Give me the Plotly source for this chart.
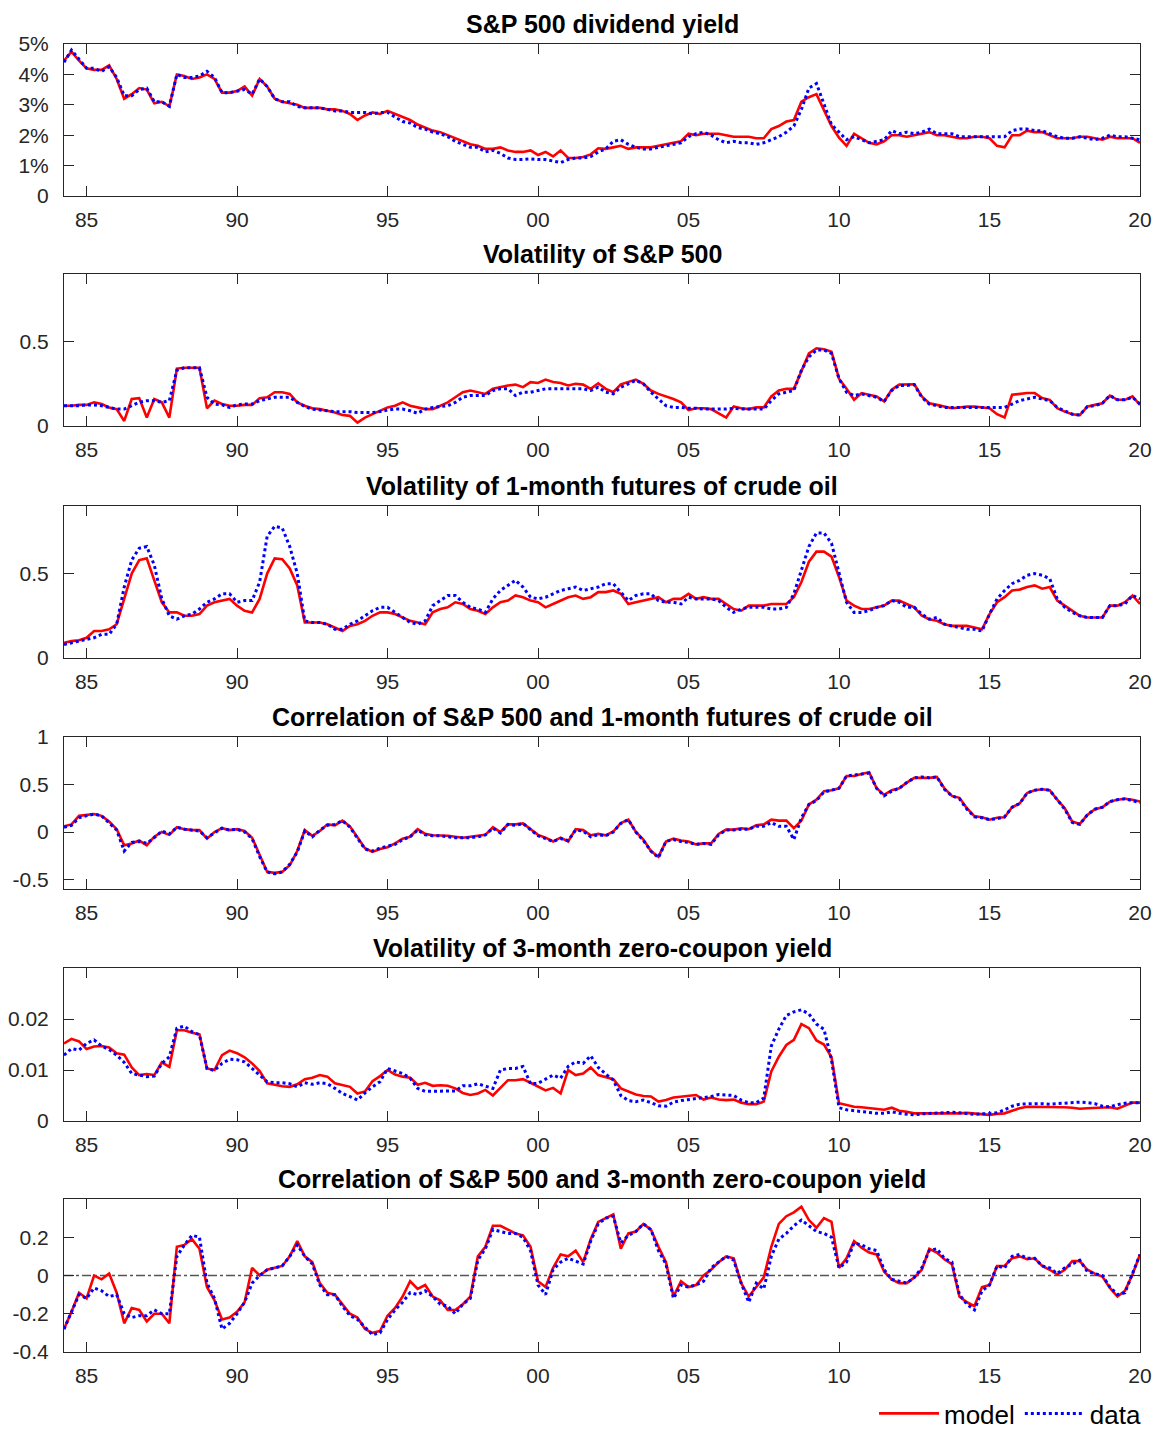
import plotly.graph_objects as go

# quarterly grid: 1984.25 ... 2020.00 (144 points)
years = [1984.25 + 0.25 * k for k in range(144)]

x_tickvals = [1985, 1990, 1995, 2000, 2005, 2010, 2015, 2020]
x_ticktext = ["85", "90", "95", "00", "05", "10", "15", "20"]

# ---- S&P 500 dividend yield (percent)
div_model = [
    4.45, 4.75, 4.45,
    4.2, 4.15, 4.15, 4.3,
    3.85, 3.2, 3.35, 3.55,
    3.5, 3.05, 3.1, 2.95,
    4.0, 3.95, 3.85, 3.9,
    4.0, 3.85, 3.4, 3.4,
    3.45, 3.6, 3.3, 3.85,
    3.6, 3.2, 3.1, 3.05,
    3.0, 2.9, 2.9, 2.9,
    2.85, 2.85, 2.8, 2.7,
    2.5, 2.65, 2.75, 2.7,
    2.8, 2.7, 2.6, 2.5,
    2.35, 2.25, 2.15, 2.1,
    2.0, 1.9, 1.8, 1.7,
    1.65, 1.55, 1.55, 1.6,
    1.5, 1.45, 1.45, 1.5,
    1.35, 1.45, 1.3, 1.5,
    1.25, 1.25, 1.28, 1.37,
    1.57, 1.55, 1.6, 1.65,
    1.55, 1.6, 1.6, 1.6,
    1.65, 1.7, 1.75, 1.8,
    2.05, 2.0, 2.05, 2.05,
    2.05, 2.0, 1.95, 1.95,
    1.95, 1.9, 1.9, 2.2,
    2.3, 2.45, 2.5, 3.1,
    3.25, 3.35, 2.8, 2.3,
    1.92, 1.65, 2.05, 1.9,
    1.75, 1.7, 1.8, 2.0,
    2.0, 1.95, 2.0, 2.05,
    2.1, 2.0, 2.0, 1.95,
    1.9, 1.9, 1.95, 1.95,
    1.9, 1.65, 1.6, 2.0,
    2.0, 2.15, 2.1, 2.1,
    2.0, 1.9, 1.9, 1.9,
    1.95, 1.95, 1.9, 1.85,
    1.95, 1.9, 1.9, 1.9,
    1.75,
]
div_data = [
    4.4, 4.8, 4.5,
    4.2, 4.2, 4.1, 4.25,
    3.9, 3.3, 3.3, 3.5,
    3.55, 3.1, 3.1, 2.95,
    4.0, 3.9, 3.9, 3.95,
    4.1, 3.9, 3.4, 3.4,
    3.45, 3.5, 3.35, 3.85,
    3.6, 3.2, 3.1, 3.1,
    2.95, 2.9, 2.9, 2.9,
    2.85, 2.8, 2.8, 2.75,
    2.75, 2.75, 2.7, 2.75,
    2.75, 2.6, 2.45, 2.4,
    2.25, 2.2, 2.1, 2.05,
    1.95, 1.8, 1.7, 1.6,
    1.6, 1.45, 1.5, 1.4,
    1.25, 1.2, 1.2, 1.22,
    1.2, 1.2, 1.15, 1.1,
    1.2, 1.25, 1.25, 1.3,
    1.45, 1.55, 1.8, 1.85,
    1.7, 1.6, 1.55, 1.55,
    1.6, 1.65, 1.7, 1.75,
    1.95, 2.05, 2.1, 2.0,
    1.85, 1.75, 1.8, 1.75,
    1.75, 1.7, 1.75, 1.85,
    1.95, 2.1, 2.3, 2.85,
    3.55, 3.7, 3.0, 2.35,
    2.1, 1.85, 1.95, 1.85,
    1.75, 1.8, 1.85, 2.15,
    2.05, 2.1, 2.05, 2.1,
    2.2, 2.05, 2.05, 2.05,
    1.95, 1.95, 1.95, 1.95,
    1.95, 1.95, 1.95, 2.15,
    2.2, 2.2, 2.15, 2.15,
    2.05, 1.95, 1.9, 1.9,
    1.95, 1.9, 1.85, 1.9,
    2.0, 1.95, 1.95, 1.9,
    1.85,
]

# ---- Volatility of S&P 500
volsp_model = [
    0.12, 0.12, 0.125,
    0.125, 0.14, 0.13, 0.11,
    0.1, 0.03, 0.16, 0.165,
    0.05, 0.16, 0.14, 0.05,
    0.34, 0.345, 0.345, 0.345,
    0.105, 0.15, 0.13, 0.12,
    0.12, 0.125, 0.125, 0.165,
    0.17, 0.2, 0.2, 0.19,
    0.14, 0.12, 0.105, 0.1,
    0.09, 0.08, 0.065, 0.06,
    0.02, 0.05, 0.07, 0.09,
    0.11, 0.12, 0.14, 0.12,
    0.11, 0.1, 0.1, 0.12,
    0.14, 0.17, 0.2, 0.21,
    0.2, 0.19, 0.22, 0.23,
    0.24, 0.245, 0.23, 0.26,
    0.255, 0.275, 0.26, 0.255,
    0.24, 0.25, 0.245, 0.22,
    0.253, 0.22, 0.2, 0.247,
    0.26, 0.275, 0.25, 0.21,
    0.19, 0.175, 0.16, 0.14,
    0.095, 0.105, 0.105, 0.1,
    0.075, 0.05, 0.115, 0.105,
    0.1, 0.11, 0.11, 0.175,
    0.21, 0.22, 0.22, 0.32,
    0.43, 0.46, 0.455, 0.44,
    0.28, 0.22, 0.155, 0.195,
    0.185, 0.175, 0.145, 0.215,
    0.245, 0.245, 0.247, 0.175,
    0.135, 0.125, 0.115, 0.105,
    0.11, 0.115, 0.115, 0.11,
    0.105, 0.07, 0.05, 0.185,
    0.19, 0.195, 0.195, 0.165,
    0.155, 0.105, 0.085, 0.07,
    0.065, 0.115, 0.125, 0.135,
    0.18, 0.155, 0.155, 0.175,
    0.125,
]
volsp_data = [
    0.12, 0.12, 0.12,
    0.125, 0.125, 0.12, 0.11,
    0.1, 0.1, 0.12, 0.14,
    0.15, 0.15, 0.14, 0.15,
    0.33, 0.345, 0.345, 0.345,
    0.17, 0.13, 0.125, 0.11,
    0.125, 0.13, 0.13, 0.15,
    0.16, 0.17, 0.17, 0.17,
    0.14, 0.115, 0.1, 0.095,
    0.09, 0.085, 0.085, 0.085,
    0.08, 0.08, 0.08, 0.085,
    0.095, 0.1, 0.1, 0.09,
    0.075, 0.1, 0.11, 0.115,
    0.12, 0.14, 0.17, 0.18,
    0.18, 0.18, 0.21, 0.22,
    0.22, 0.18, 0.2, 0.2,
    0.21, 0.22, 0.22, 0.22,
    0.22, 0.22, 0.22, 0.21,
    0.23, 0.2, 0.19, 0.23,
    0.25, 0.27, 0.25, 0.2,
    0.16, 0.12, 0.11, 0.11,
    0.105, 0.105, 0.1, 0.1,
    0.1, 0.1, 0.105, 0.1,
    0.1, 0.1, 0.1, 0.15,
    0.19, 0.2, 0.21, 0.33,
    0.41, 0.45, 0.45, 0.43,
    0.28, 0.2, 0.18, 0.19,
    0.18, 0.17, 0.145, 0.21,
    0.24, 0.24, 0.245, 0.17,
    0.13, 0.12, 0.11, 0.11,
    0.11, 0.11, 0.11, 0.11,
    0.11, 0.11, 0.11, 0.13,
    0.15, 0.16, 0.17, 0.16,
    0.15, 0.11, 0.09, 0.07,
    0.065, 0.115, 0.12, 0.135,
    0.18, 0.155, 0.155, 0.17,
    0.13,
]

# ---- Volatility of 1-month futures of crude oil
oil_model = [
    0.09, 0.1, 0.105,
    0.12, 0.16, 0.16, 0.17,
    0.2, 0.35, 0.5, 0.58,
    0.59, 0.46, 0.33, 0.27,
    0.27, 0.25, 0.25, 0.26,
    0.31, 0.33, 0.34, 0.35,
    0.31, 0.28, 0.27, 0.35,
    0.5, 0.59, 0.585, 0.53,
    0.43, 0.21, 0.21, 0.21,
    0.2, 0.18, 0.16, 0.19,
    0.2, 0.22, 0.25, 0.27,
    0.27, 0.26, 0.24, 0.22,
    0.21, 0.2, 0.27, 0.29,
    0.3, 0.33, 0.32, 0.29,
    0.28, 0.26, 0.3, 0.33,
    0.34, 0.37, 0.36, 0.34,
    0.33, 0.3, 0.32, 0.34,
    0.36, 0.37, 0.35, 0.36,
    0.39, 0.39, 0.4, 0.38,
    0.32, 0.33, 0.34, 0.35,
    0.36, 0.33, 0.35, 0.35,
    0.38, 0.35, 0.36, 0.35,
    0.35, 0.32, 0.29, 0.28,
    0.31, 0.31, 0.31, 0.32,
    0.32, 0.32, 0.36, 0.45,
    0.57, 0.63, 0.63, 0.6,
    0.48, 0.34, 0.31, 0.29,
    0.29, 0.3, 0.31, 0.34,
    0.34, 0.32, 0.3, 0.25,
    0.23, 0.22, 0.2, 0.19,
    0.19, 0.19, 0.18, 0.17,
    0.26, 0.33, 0.36, 0.4,
    0.405, 0.42, 0.43, 0.41,
    0.42, 0.34, 0.31, 0.28,
    0.25, 0.24, 0.24, 0.24,
    0.31, 0.31, 0.33, 0.37,
    0.32,
]
oil_data = [
    0.08, 0.09, 0.1,
    0.11, 0.12, 0.14, 0.14,
    0.2, 0.42, 0.58, 0.65,
    0.66, 0.55, 0.35, 0.25,
    0.23, 0.25, 0.26, 0.29,
    0.33, 0.35, 0.38, 0.38,
    0.33, 0.34, 0.34, 0.45,
    0.72, 0.78, 0.77, 0.66,
    0.5, 0.22, 0.21, 0.21,
    0.2, 0.17, 0.17, 0.2,
    0.22, 0.25, 0.28, 0.3,
    0.3, 0.27, 0.24, 0.21,
    0.2, 0.22, 0.31, 0.34,
    0.37, 0.37, 0.33, 0.3,
    0.29, 0.27, 0.35, 0.4,
    0.43, 0.46, 0.42, 0.36,
    0.35, 0.36, 0.38, 0.4,
    0.41, 0.42, 0.4, 0.41,
    0.42, 0.44, 0.44, 0.39,
    0.34, 0.37, 0.38, 0.38,
    0.34, 0.33, 0.33, 0.32,
    0.36, 0.35, 0.35, 0.35,
    0.34, 0.3, 0.27, 0.29,
    0.3, 0.3, 0.3, 0.29,
    0.29, 0.3, 0.38, 0.52,
    0.66, 0.74, 0.74, 0.68,
    0.5, 0.33, 0.27, 0.27,
    0.28, 0.3, 0.31, 0.34,
    0.33, 0.3, 0.3, 0.26,
    0.23, 0.24, 0.2, 0.19,
    0.18, 0.17, 0.17, 0.16,
    0.26, 0.35, 0.4, 0.44,
    0.46, 0.49, 0.5, 0.49,
    0.47, 0.35, 0.3, 0.27,
    0.25, 0.24, 0.24, 0.24,
    0.31, 0.31, 0.32, 0.37,
    0.35,
]

# ---- Correlation of S&P 500 and 1-month futures of crude oil
corroil_model = [
    0.06, 0.08, 0.17,
    0.18, 0.19, 0.17, 0.11,
    0.03, -0.14, -0.12, -0.09,
    -0.14, -0.05, 0.0, -0.03,
    0.05, 0.03, 0.02, 0.02,
    -0.07, 0.0, 0.04, 0.02,
    0.03, 0.01, -0.06, -0.25,
    -0.42, -0.43, -0.42, -0.35,
    -0.2, 0.02, -0.04, 0.01,
    0.08, 0.07, 0.12, 0.06,
    -0.05, -0.17, -0.21, -0.18,
    -0.16, -0.12, -0.07, -0.05,
    0.03, -0.02, -0.035, -0.035,
    -0.04, -0.05, -0.06, -0.05,
    -0.04, -0.03, 0.05, 0.0,
    0.08, 0.08, 0.09, 0.03,
    -0.03, -0.06, -0.1, -0.06,
    -0.1, 0.03, 0.02, -0.035,
    -0.02, -0.035, 0.005, 0.095,
    0.13, 0.0, -0.08, -0.2,
    -0.26, -0.1, -0.07, -0.09,
    -0.1, -0.13, -0.12, -0.12,
    -0.02, 0.025, 0.025, 0.04,
    0.03, 0.07, 0.08, 0.13,
    0.12, 0.12, 0.04, 0.12,
    0.29, 0.34, 0.43, 0.44,
    0.46, 0.59, 0.59, 0.61,
    0.63, 0.46, 0.39, 0.44,
    0.46, 0.52, 0.57, 0.57,
    0.57, 0.58, 0.46, 0.38,
    0.36, 0.25, 0.165, 0.155,
    0.13, 0.15, 0.155, 0.26,
    0.3, 0.41, 0.44, 0.45,
    0.44, 0.34, 0.25, 0.11,
    0.085, 0.18, 0.24, 0.26,
    0.32, 0.34, 0.35, 0.34,
    0.32,
]
corroil_data = [
    0.05, 0.07, 0.15,
    0.17, 0.19, 0.17, 0.1,
    0.02, -0.2, -0.11, -0.1,
    -0.12, -0.06, 0.01, -0.02,
    0.05, 0.03, 0.02, 0.01,
    -0.06, -0.01, 0.04, 0.02,
    0.03, 0.0, -0.07, -0.26,
    -0.42, -0.44, -0.42, -0.34,
    -0.21, 0.01, -0.05, 0.02,
    0.07, 0.08, 0.12, 0.05,
    -0.06, -0.18, -0.2, -0.17,
    -0.15, -0.13, -0.08, -0.05,
    0.02, -0.03, -0.04, -0.04,
    -0.05, -0.06, -0.06, -0.06,
    -0.05, -0.03, 0.04, -0.01,
    0.08, 0.07, 0.09, 0.02,
    -0.04, -0.07, -0.1, -0.07,
    -0.09, 0.02, 0.01, -0.05,
    -0.03, -0.04, 0.0, 0.09,
    0.13, 0.0, -0.09, -0.2,
    -0.27, -0.1, -0.08, -0.1,
    -0.11, -0.13, -0.12, -0.13,
    -0.03, 0.02, 0.02, 0.03,
    0.03, 0.06, 0.06, 0.1,
    0.06, 0.06, -0.08, 0.15,
    0.29, 0.33, 0.42, 0.44,
    0.46, 0.59, 0.6, 0.61,
    0.62, 0.46, 0.38, 0.43,
    0.46, 0.52, 0.57, 0.58,
    0.57, 0.58, 0.45, 0.38,
    0.35, 0.24, 0.16, 0.15,
    0.13, 0.14, 0.16, 0.26,
    0.3, 0.41, 0.44, 0.45,
    0.44, 0.34, 0.24, 0.1,
    0.08, 0.18, 0.24, 0.26,
    0.32, 0.34, 0.35, 0.33,
    0.31,
]

# ---- Volatility of 3-month zero-coupon yield
volyld_model = [
    0.0152, 0.0161, 0.0156,
    0.0141, 0.0146, 0.0147, 0.0144,
    0.0133, 0.013, 0.0105, 0.009,
    0.0092, 0.009, 0.0115, 0.0106,
    0.0178, 0.0178, 0.0173, 0.017,
    0.0103, 0.01, 0.0129, 0.0138,
    0.0133, 0.0125, 0.0113, 0.0098,
    0.0074, 0.0071, 0.0068, 0.0067,
    0.0072, 0.0082, 0.0085, 0.009,
    0.0087, 0.0074, 0.0071, 0.0067,
    0.0054, 0.0058, 0.0078, 0.0088,
    0.01, 0.0091, 0.0087, 0.0085,
    0.0071, 0.0075, 0.0069, 0.007,
    0.0069, 0.0064, 0.0055, 0.0051,
    0.0054, 0.0061, 0.005, 0.0065,
    0.008, 0.008, 0.0082, 0.0075,
    0.0068, 0.006, 0.0065, 0.0054,
    0.01, 0.009, 0.0093, 0.0105,
    0.009, 0.0086, 0.0082, 0.0064,
    0.0058, 0.0052, 0.0049, 0.0048,
    0.0038, 0.0041, 0.0046, 0.0048,
    0.0049, 0.0051, 0.0042, 0.0046,
    0.0042, 0.0041, 0.0042, 0.0036,
    0.0033, 0.0033, 0.0038, 0.0097,
    0.0126, 0.0149, 0.0159, 0.019,
    0.0182, 0.0158, 0.015, 0.0125,
    0.0035, 0.0031, 0.0028, 0.0027,
    0.0025, 0.0024, 0.0022, 0.0026,
    0.002, 0.0018, 0.0015, 0.0015,
    0.0015, 0.0014, 0.0015, 0.0015,
    0.0015, 0.0016, 0.0015, 0.0014,
    0.0012, 0.0014, 0.0015, 0.002,
    0.0025, 0.0028, 0.0028, 0.0028,
    0.0028, 0.0028, 0.0027, 0.0026,
    0.0024, 0.0025, 0.0026, 0.0026,
    0.0027, 0.0024, 0.003, 0.0036,
    0.0036,
]
volyld_data = [
    0.0129, 0.0142, 0.0139,
    0.0152, 0.0159, 0.0147, 0.014,
    0.0129, 0.0115, 0.0093, 0.009,
    0.0087, 0.0088, 0.0113, 0.0126,
    0.0182, 0.0186, 0.0175, 0.0169,
    0.0103, 0.0099, 0.0113, 0.0121,
    0.012, 0.0116, 0.0103, 0.009,
    0.0077, 0.0075, 0.0075, 0.0073,
    0.0067, 0.0075, 0.0072, 0.0075,
    0.0073, 0.0064, 0.0054, 0.0048,
    0.0041, 0.0055, 0.0067, 0.0077,
    0.0103, 0.0098, 0.0093, 0.0084,
    0.0064, 0.0058, 0.0058, 0.0059,
    0.0058, 0.0059, 0.0069, 0.0069,
    0.0073, 0.0068, 0.0064, 0.01,
    0.0103, 0.0103, 0.0107, 0.0073,
    0.0074, 0.0082, 0.009, 0.0084,
    0.0107, 0.0116, 0.0113, 0.0128,
    0.0105, 0.0092, 0.008, 0.005,
    0.004, 0.0038, 0.0041, 0.0036,
    0.003, 0.0029, 0.0037, 0.004,
    0.0042, 0.0044, 0.0046, 0.0048,
    0.0052, 0.0051, 0.005, 0.0041,
    0.0036, 0.0036, 0.0045, 0.0147,
    0.018, 0.0207, 0.0214, 0.0218,
    0.021, 0.019, 0.018, 0.012,
    0.0026, 0.0022, 0.002, 0.0018,
    0.0016, 0.0015, 0.0015, 0.0018,
    0.0015, 0.0014, 0.0012, 0.0014,
    0.0015, 0.0015, 0.0017, 0.0017,
    0.0016, 0.0014, 0.0013, 0.0014,
    0.0015, 0.0016, 0.0022, 0.0029,
    0.0033, 0.0034, 0.0034, 0.0034,
    0.0033, 0.0034, 0.0035, 0.0036,
    0.0037, 0.0036, 0.0034, 0.0029,
    0.0028, 0.0032, 0.0035, 0.0036,
    0.0036,
]

# ---- Correlation of S&P 500 and 3-month zero-coupon yield
corryld_model = [
    -0.28, -0.19, -0.09,
    -0.12, 0.0, -0.02, 0.01,
    -0.09, -0.25, -0.17, -0.18,
    -0.24, -0.2, -0.2, -0.25,
    0.15, 0.16, 0.19, 0.14,
    -0.06, -0.13, -0.23, -0.22,
    -0.19, -0.14, 0.04, 0.0,
    0.03, 0.04, 0.05, 0.1,
    0.18, 0.1, 0.07, -0.04,
    -0.09, -0.1, -0.15, -0.2,
    -0.22, -0.28, -0.3, -0.29,
    -0.21, -0.17, -0.11, -0.03,
    -0.07, -0.05, -0.11, -0.13,
    -0.18, -0.18, -0.15, -0.11,
    0.1, 0.15, 0.26, 0.26,
    0.24, 0.22, 0.21, 0.15,
    -0.03, -0.06, 0.04, 0.11,
    0.1, 0.13, 0.07, 0.19,
    0.28, 0.3, 0.32, 0.14,
    0.22, 0.23, 0.27, 0.24,
    0.15, 0.07, -0.11, -0.03,
    -0.06, -0.05, 0.0, 0.03,
    0.07, 0.1, 0.09, -0.04,
    -0.11, -0.06, -0.01, 0.15,
    0.27, 0.31, 0.33, 0.36,
    0.29, 0.25, 0.3, 0.28,
    0.04, 0.09, 0.18, 0.145,
    0.12, 0.11, 0.02, -0.02,
    -0.04, -0.04, -0.01, 0.03,
    0.14, 0.12, 0.085, 0.06,
    -0.11, -0.14, -0.16, -0.06,
    -0.05, 0.05, 0.05, 0.09,
    0.1, 0.085, 0.09, 0.05,
    0.03, 0.005, 0.03, 0.075,
    0.075, 0.03, 0.01, -0.005,
    -0.065, -0.11, -0.08, 0.005,
    0.11,
]
corryld_data = [
    -0.28, -0.19, -0.1,
    -0.12, -0.065, -0.08, -0.11,
    -0.1, -0.2, -0.22, -0.21,
    -0.21, -0.18, -0.2, -0.2,
    0.1, 0.16, 0.21, 0.2,
    -0.04, -0.12, -0.28, -0.25,
    -0.2, -0.14, -0.04, 0.0,
    0.03, 0.04, 0.05, 0.1,
    0.16, 0.1, 0.06, -0.05,
    -0.1, -0.1, -0.16, -0.21,
    -0.23, -0.27, -0.31, -0.3,
    -0.23, -0.18, -0.14, -0.09,
    -0.1, -0.08, -0.11, -0.15,
    -0.16, -0.2, -0.15, -0.12,
    0.08, 0.14, 0.24, 0.23,
    0.22, 0.22, 0.2, 0.13,
    -0.05, -0.1, 0.03, 0.07,
    0.09, 0.075, 0.06, 0.18,
    0.27, 0.3, 0.31, 0.17,
    0.21, 0.23, 0.27, 0.24,
    0.13, 0.06, -0.12, -0.05,
    -0.06, -0.05, -0.03, 0.04,
    0.07, 0.1, 0.08, -0.04,
    -0.14, -0.04, -0.07, 0.1,
    0.19, 0.22, 0.26, 0.29,
    0.26, 0.23, 0.22, 0.2,
    0.04, 0.07, 0.17, 0.16,
    0.14, 0.13, 0.03, -0.02,
    -0.03, -0.04, -0.01, 0.04,
    0.13, 0.14, 0.09, 0.07,
    -0.1, -0.15, -0.18, -0.08,
    -0.05, 0.05, 0.04, 0.1,
    0.11, 0.09, 0.09, 0.05,
    0.04, 0.01, 0.04, 0.06,
    0.08, 0.02, 0.01, 0.0,
    -0.06, -0.1, -0.09, 0.01,
    0.11,
]

titles = [
    "S&P 500 dividend yield",
    "Volatility of S&P 500",
    "Volatility of 1-month futures of crude oil",
    "Correlation of S&P 500 and 1-month futures of crude oil",
    "Volatility of 3-month zero-coupon yield",
    "Correlation of S&P 500 and 3-month zero-coupon yield",
]
y_ranges = [[0, 5], [0, 0.9], [0, 0.9], [-0.6, 1], [0, 0.03], [-0.4, 0.4]]
y_tickvals = [
    [0, 1, 2, 3, 4, 5],
    [0, 0.5],
    [0, 0.5],
    [-0.5, 0, 0.5, 1],
    [0, 0.01, 0.02],
    [-0.4, -0.2, 0, 0.2],
]
y_ticktext = [
    ["0", "1%", "2%", "3%", "4%", "5%"],
    ["0", "0.5"],
    ["0", "0.5"],
    ["-0.5", "0", "0.5", "1"],
    ["0", "0.01", "0.02"],
    ["-0.4", "-0.2", "0", "0.2"],
]
models = [div_model, volsp_model, oil_model, corroil_model, volyld_model, corryld_model]
datas = [div_data, volsp_data, oil_data, corroil_data, volyld_data, corryld_data]

for arr in models + datas:
    assert len(arr) == len(years), len(arr)

# layout geometry (pixels)
W, H = 1156, 1431
ML, MR, MT, MB = 64, 16, 44, 79
PW = W - ML - MR
PH = H - MT - MB
panel_px = [(44, 196), (274, 426), (506, 658), (737, 889), (968, 1121), (1199, 1352)]

AX = "#262626"
FONT = "Liberation Sans, Arial, Helvetica, sans-serif"
TICK_SIZE = 21

fig = go.Figure()
layout = dict(
    width=W, height=H,
    margin=dict(l=ML, r=MR, t=MT, b=MB, autoexpand=False),
    paper_bgcolor="white", plot_bgcolor="white",
    font=dict(family=FONT, color=AX, size=TICK_SIZE),
    showlegend=True,
    legend=dict(orientation="h", x=1.0 + 6 / PW, xanchor="right",
                y=(H - MB - 1437) / PH, yanchor="bottom",
                font=dict(size=26, color="black"),
                bgcolor="rgba(0,0,0,0)", itemwidth=60, tracegroupgap=0),
    annotations=[], shapes=[],
)

for i in range(6):
    n = "" if i == 0 else str(i + 1)
    top, bot = panel_px[i]
    d0 = (H - MB - bot) / PH
    d1 = (H - MB - top) / PH
    fig.add_trace(go.Scatter(
        x=years, y=models[i], mode="lines", name="model",
        line=dict(color="#ff0000", width=2.6),
        xaxis="x" + n, yaxis="y" + n, showlegend=(i == 0)))
    fig.add_trace(go.Scatter(
        x=years, y=datas[i], mode="lines", name="data",
        line=dict(color="#0000ff", width=3, dash="dot"),
        xaxis="x" + n, yaxis="y" + n, showlegend=(i == 0)))
    layout["xaxis" + n] = dict(
        domain=[0, 1], anchor="y" + n, range=[1984.25, 2020],
        tickmode="array", tickvals=x_tickvals, ticktext=x_ticktext,
        ticks="inside", ticklen=10, tickwidth=1, tickcolor=AX,
        showline=True, linecolor=AX, linewidth=1, mirror="allticks",
        showgrid=False, zeroline=False, tickfont=dict(size=TICK_SIZE, color=AX),
        ticklabelstandoff=5, automargin=False,
    )
    layout["yaxis" + n] = dict(
        domain=[d0, d1], anchor="x" + n, range=y_ranges[i],
        tickmode="array", tickvals=y_tickvals[i], ticktext=y_ticktext[i],
        ticks="inside", ticklen=10, tickwidth=1, tickcolor=AX,
        showline=True, linecolor=AX, linewidth=1, mirror="allticks",
        showgrid=False, zeroline=False, tickfont=dict(size=TICK_SIZE, color=AX),
        ticklabelstandoff=10, automargin=False,
    )
    layout["annotations"].append(dict(
        text="<b>" + titles[i].replace("&", "&amp;") + "</b>",
        xref="paper", yref="paper", x=0.5, y=d1, xanchor="center",
        yanchor="bottom", yshift=4, showarrow=False,
        font=dict(size=25, color="black", family=FONT)))

layout["shapes"].append(dict(
    type="line", xref="x6", yref="y6", x0=1984.25, x1=2020, y0=0, y1=0,
    line=dict(color="#555555", width=1.5, dash="dashdot"), layer="below"))

fig.update_layout(**layout)
fig.write_html("out.html")
